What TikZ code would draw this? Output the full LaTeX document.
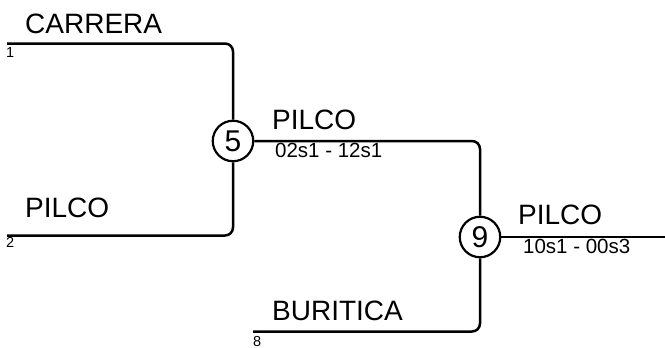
\documentclass[tikz,border=0pt]{standalone}
\usepackage{fontspec}
\setmainfont{Liberation Sans}
\begin{document}
\begin{tikzpicture}[x=1pt,y=-1pt,
  road/.style={line width=2.5pt,rounded corners=8pt},
  junc/.style={circle,draw,line width=2.2pt,minimum size=40.5pt,inner sep=0pt,font=\fontsize{30}{30}\selectfont},
  big/.style={anchor=base west,inner sep=0pt,font=\fontsize{28}{28}\selectfont},
  small/.style={anchor=base west,inner sep=0pt,font=\fontsize{14.5}{14.5}\selectfont},
  code/.style={anchor=base west,inner sep=0pt,font=\fontsize{20.5}{20.5}\selectfont}]
\useasboundingbox (0,0) rectangle (665,348);
\node[junc] (n5) at (233,141) {5};
\node[junc] (n9) at (480,237) {9};
\coordinate (s1) at (7,43.5);
\coordinate (s2) at (7,235.5);
\coordinate (s8) at (253,331.5);
\coordinate (out) at (665,237);
\draw[road] (s1) -| (n5);
\draw[road] (s2) -| (n5);
\draw[road] (n5) -| (n9);
\draw[road] (s8) -| (n9);
\draw[road] (n9) -- (out);
\node[big] (l1) at (25,33) {CARRERA};
\node[small] (c1) at (6,57.5) {1};
\node[big] (l2) at (25,217) {PILCO};
\node[small] (c2) at (6,247.5) {2};
\node[big] (l5) at (272,129) {PILCO};
\node[code] (k5) at (275,157) {02s1 - 12s1};
\node[big] (l9) at (518,224) {PILCO};
\node[code] (k9) at (523,253) {10s1 - 00s3};
\node[big] (l8) at (272,320) {BURITICA};
\node[small] (c8) at (253,346) {8};
\end{tikzpicture}
\end{document}
